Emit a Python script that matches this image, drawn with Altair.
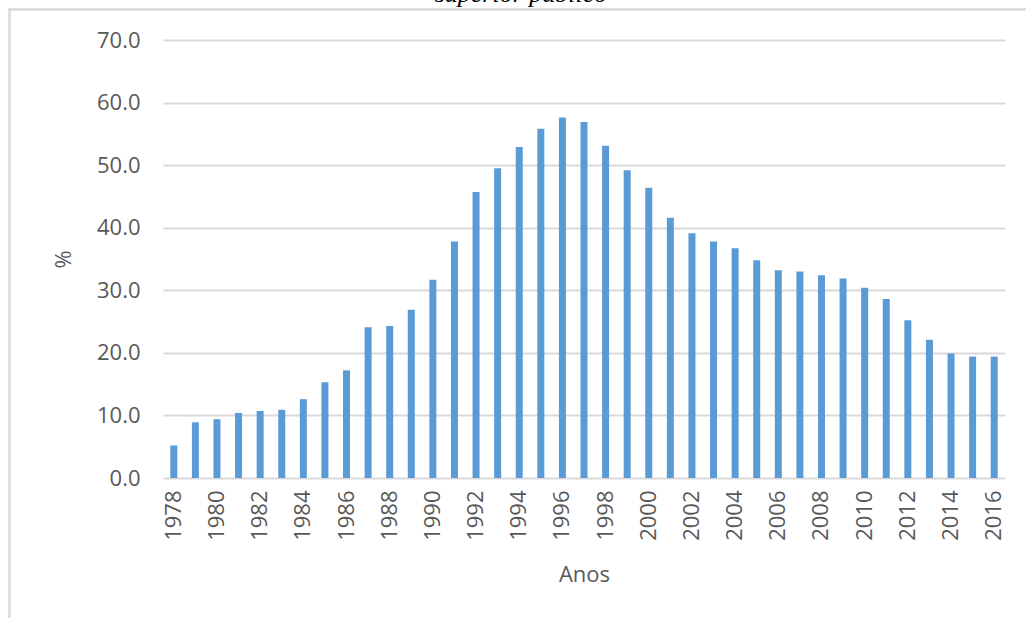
import altair as alt
import pandas as pd

years = [1978, 1979, 1980, 1981, 1982, 1983, 1984, 1985, 1986, 1987,
         1988, 1989, 1990, 1991, 1992, 1993, 1994, 1995, 1996, 1997,
         1998, 1999, 2000, 2001, 2002, 2003, 2004, 2005, 2006, 2007,
         2008, 2009, 2010, 2011, 2012, 2013, 2014, 2015, 2016]
values = [5.2, 8.9, 9.4, 10.4, 10.7, 10.9, 12.6, 15.3, 17.2, 24.1,
          24.3, 26.9, 31.7, 37.8, 45.7, 49.5, 52.9, 55.8, 57.6, 56.9,
          53.1, 49.2, 46.4, 41.6, 39.1, 37.8, 36.7, 34.8, 33.2, 33.0,
          32.4, 31.9, 30.4, 28.6, 25.2, 22.1, 19.9, 19.4, 19.4]
x_ticks = [1978, 1980, 1982, 1984, 1986, 1988, 1990, 1992, 1994, 1996,
           1998, 2000, 2002, 2004, 2006, 2008, 2010, 2012, 2014, 2016]
y_ticks = [0, 10, 20, 30, 40, 50, 60, 70]
title_text = "superior público"
x_title = "Anos"
y_title = "%"

df = pd.DataFrame({"ano": years, "valor": values})

FONT = "Open Sans"
GRAY = "#595959"

bars = alt.Chart(df).mark_bar(size=7, color="#5B9BD5").encode(
    x=alt.X(
        "ano:O",
        scale=alt.Scale(paddingInner=0, paddingOuter=0),
        axis=alt.Axis(
            values=x_ticks, labelAngle=-90, labelFont=FONT, labelFontSize=22,
            labelColor=GRAY, labelPadding=12, ticks=False, domain=False,
            grid=False, title=x_title, titleFont=FONT, titleFontSize=22,
            titleFontWeight="normal", titleColor=GRAY, titlePadding=24,
        ),
    ),
    y=alt.Y(
        "valor:Q",
        scale=alt.Scale(domain=[0, 70], nice=False),
        axis=alt.Axis(
            values=y_ticks, format=".1f", labelFont=FONT, labelFontSize=22,
            labelColor=GRAY, labelPadding=23, ticks=False, domain=False,
            grid=True, gridColor="#d9d9d9", gridWidth=2,
            title=y_title, titleFont=FONT, titleFontSize=22,
            titleFontWeight="normal", titleColor=GRAY, titlePadding=21,
        ),
    ),
)

one = alt.Data(values=[{"k": 1}])

title = alt.Chart(one).mark_text(
    font="Liberation Serif", fontStyle="italic", fontSize=26,
    color="#000000", baseline="alphabetic", align="center",
).encode(x=alt.value(358), y=alt.value(-38), text=alt.value(title_text))

border_left = alt.Chart(one).mark_rule(color="#d9d9d9", strokeWidth=2.5).encode(
    x=alt.value(-153.5), y=alt.value(-30), y2=alt.value(580)
)
border_top = alt.Chart(one).mark_rule(color="#d9d9d9", strokeWidth=2.5).encode(
    x=alt.value(-155), x2=alt.value(865), y=alt.value(-30.5)
)

chart = alt.layer(bars, title, border_left, border_top).properties(
    width=842, height=438,
    autosize=alt.AutoSizeParams(type="none"),
    padding={"left": 163, "top": 40, "right": 21, "bottom": 140},
    background="white",
).configure_view(stroke=None)

chart.save("out.html", embed_options={"renderer": "svg", "actions": False})
